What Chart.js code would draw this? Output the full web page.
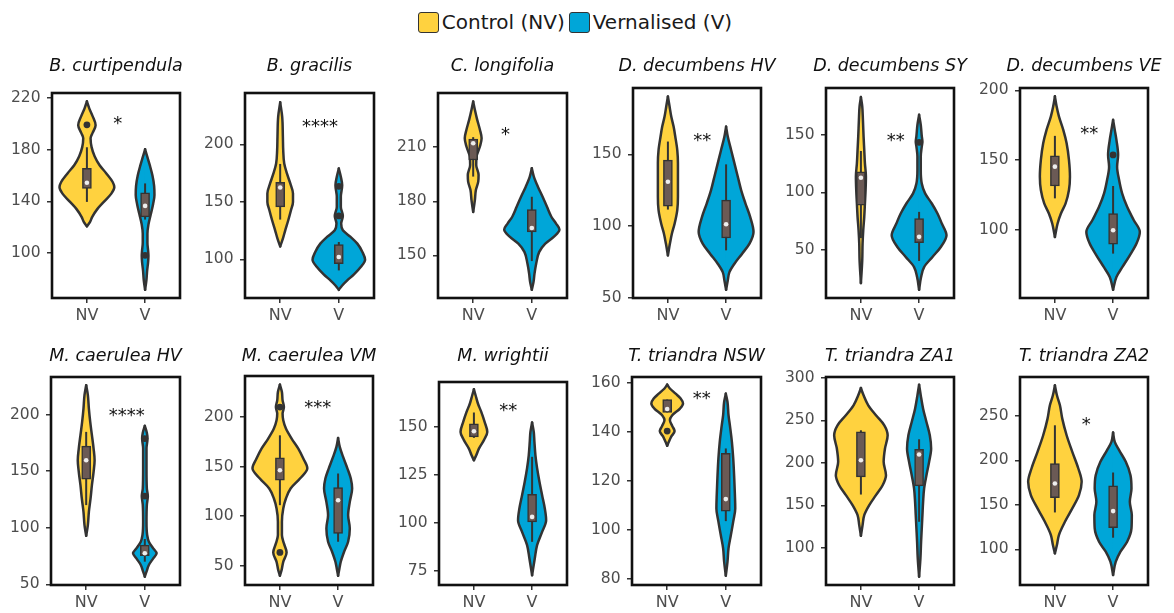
<!DOCTYPE html>
<html><head><meta charset="utf-8">
<script src="https://cdn.jsdelivr.net/npm/chart.js@4.4.1/dist/chart.umd.min.js"></script>
<style>
html,body{margin:0;padding:0;background:#fff;}
body{width:1174px;height:613px;overflow:hidden;position:relative;font-family:"DejaVu Sans",sans-serif;}
.panel{position:absolute;}
.panel canvas{display:block;}
#legend{position:absolute;left:-14px;top:9px;width:1174px;display:flex;justify-content:center;align-items:center;font-size:20px;color:#1a1a1a;line-height:26px;}
.key{width:19px;height:19px;border:1.6px solid #333;border-radius:3px;margin-right:3px;margin-left:4px;}
</style></head><body>
<div id="legend"><span class="key" style="background:#FFD23F"></span><span>Control (NV)</span><span class="key" style="background:#00A6D8"></span><span>Vernalised (V)</span></div>
<script>
// ---------------- DATA ----------------
const categories = ['NV', 'V'];
const titles = ['B. curtipendula','B. gracilis','C. longifolia','D. decumbens HV','D. decumbens SY','D. decumbens VE',
  'M. caerulea HV','M. caerulea VM','M. wrightii','T. triandra NSW','T. triandra ZA1','T. triandra ZA2'];
const yTicks = [[100,140,180,220],[100,150,200],[150,180,210],[50,100,150],[50,100,150],[100,150,200],
  [50,100,150,200],[50,100,150,200],[75,100,125,150],[80,100,120,140,160],[100,150,200,250,300],[100,150,200,250]];
const yRanges = [[65.2,223.9],[66.4,244.7],[126.3,240.1],[49.9,196.2],[7.8,190.9],[50.8,201.7],
  [49.4,233.2],[30.6,241.3],[67.6,173.4],[77.4,162.4],[56.1,301.2],[59.9,293.8]];
// violin profiles: [value, relative density width]
const nvProfiles = [
  [[120.7,0],[124,9],[128,16],[134,31],[140,52],[146,73],[151,82],[155,77],[162,57],[168,38],[175,23],[182,14],[188.9,11],[193,17],[199,26],[206,17],[212,7],[217.4,0]],
  [[111.3,0],[118,8],[125.3,15],[134,24],[142.7,32],[150,38],[157.3,38],[166,30],[174.7,20],[183.4,12],[195,9],[206.7,8],[224,6],[236.6,0]],
  [[174.1,0],[180.6,5],[186.2,8],[190.9,15],[194.6,16],[200.2,9],[204.8,10],[210.4,20],[215,25],[219.7,20],[225.2,12],[230.8,5],[235.4,0]],
  [[79.6,0],[87.8,6],[94.8,12],[101.6,20],[111.1,28],[120.4,30],[129.7,30],[143.7,30],[153,28],[162.4,22],[169.3,17],[176.3,10],[183.3,5],[190.3,0]],
  [[20.8,0],[40.7,4],[55.3,5],[66.9,7],[78.6,10],[90.2,12],[101.9,14],[113.6,15],[125.2,12],[136.9,10],[148.5,8],[163.1,6],[174.8,4],[183,0]],
  [[94.7,0],[104.3,8],[111.5,18],[118.8,32],[128.4,42],[138,45],[150,42],[162,35],[171.6,25],[181.3,12],[188.5,5],[195.7,0]],
  [[92.9,0],[102.4,5],[114.1,8],[125.9,13],[137.6,17],[149.4,22],[159.7,25],[170,22],[181.8,17],[193.5,12],[205.3,8],[217.1,5],[225.9,0]],
  [[40,0],[45.6,5],[54,10],[63.4,20],[72.5,12],[80.9,6],[94.3,6],[107.7,10],[117.8,18],[127.9,32],[137.9,60],[148.3,82],[158.1,70],[168.1,55],[178.2,35],[188.3,18],[196.6,10],[203.4,8],[210.1,12],[216.8,8],[225.2,6],[232.6,0]],
  [[132.6,0],[135.2,7],[138.7,15],[143.1,30],[147.4,40],[152.6,32],[157.8,22],[162.2,12],[166.5,5],[169.6,0]],
  [[134.3,0],[135.9,5],[138,12],[140.3,22],[142.4,15],[144.8,8],[146.8,15],[149.5,38],[151.6,47],[153.6,40],[155.6,25],[157.7,8],[159.3,0]],
  [[114.1,0],[126.7,5],[138.4,10],[150.2,25],[162,45],[173.7,65],[185.5,75],[201.2,68],[216.9,72],[232.5,80],[244.3,70],[256.1,45],[267.8,22],[279.6,8],[288.2,0]],
  [[95.5,0],[104.8,6],[116.1,12],[131,30],[146,52],[161,72],[175.9,80],[190.9,70],[209.6,52],[228.3,35],[247,22],[262,15],[273.2,6],[284.4,0]]
];
const vProfiles = [
  [[71.5,0],[79,4],[86,6],[93,9],[98,10],[102,9],[108,7],[115,7],[122,10],[130,17],[138,24],[145,28],[152,27],[160,22],[168,14],[175,6],[180.3,0]],
  [[73.5,0],[77.3,10],[81.7,25],[86.9,45],[93.3,65],[99.7,78],[106.4,70],[113.7,55],[119.5,35],[125.3,12],[131.1,7],[137.8,12],[145.6,6],[154.4,6],[164.5,10],[171.8,6],[179,0]],
  [[130.9,0],[135.1,5],[139.8,8],[145.4,13],[151.9,22],[156.5,40],[160.2,65],[164.3,82],[167.6,72],[171.4,58],[176.9,45],[182.5,32],[188.1,18],[193.7,6],[198.3,0]],
  [[55.6,0],[62.1,5],[67.9,10],[73.8,25],[80.8,48],[87.8,70],[95.9,82],[106.4,72],[115.7,58],[125.1,45],[134.4,35],[143.7,25],[153,15],[162.4,5],[169.3,0]],
  [[15,0],[26.1,6],[34.8,15],[43.6,40],[52.3,65],[62.5,82],[72.7,68],[81.5,55],[90.2,38],[99,18],[107.7,8],[119.4,5],[131,5],[139.8,8],[144,10],[149,8],[158.7,5],[167.5,0]],
  [[56.7,0],[65.9,10],[73.1,28],[81.5,50],[89.9,70],[98.3,80],[106.7,62],[116.3,42],[126,27],[135.6,18],[145.2,12],[153.6,15],[164.4,10],[171.6,5],[178.8,0]],
  [[56.8,0],[61.2,5],[67.1,12],[72.9,25],[77.4,35],[81.8,25],[87.6,12],[93.5,7],[105.3,5],[120,6],[128,9],[134.7,6],[152.4,5],[170,5],[178.8,8],[184,6],[190,0]],
  [[40,0],[47.3,4],[54,8],[64.1,18],[74.2,30],[87.6,35],[101,30],[114.4,35],[127.9,42],[137.9,38],[148,28],[159.7,15],[169.8,5],[178.9,0]],
  [[72.7,0],[81.4,8],[88.4,15],[95.3,30],[101.4,42],[107.5,38],[114.4,30],[121.4,22],[128.5,15],[135.2,10],[142.2,7],[147.4,5],[152.3,0]],
  [[81.2,0],[86.9,5],[92.4,8],[97.8,15],[103.3,22],[108.7,28],[114.1,27],[121,25],[129.1,22],[135.9,18],[142.7,12],[146.8,8],[152.2,5],[155.6,0]],
  [[65.9,0],[87.5,4],[107.1,6],[122.7,8],[138.4,10],[154.1,12],[169.8,15],[185.5,22],[201.2,30],[216.9,36],[232.5,32],[248.2,22],[263.9,12],[279.6,5],[292.2,0]],
  [[71.2,0],[86.1,8],[97.4,22],[108.5,42],[123.5,55],[138.5,56],[153.5,50],[168.4,55],[183.4,52],[198.4,38],[211.5,18],[220.8,5],[231.3,0]]
];
// box stats: [whisker low, Q1, median, Q3, whisker high]
const nvBoxes = [[139.6,150,154.4,165.6,181.9],[134.6,145.6,162.5,166.9,183],[193.7,202.9,212.2,214.5,215.6],[111.5,113.9,130.9,146,158.9],
  [60,88.8,112.7,117.9,136],[122.4,131.3,145.2,152.9,167.3],[120,142.9,159.7,172.1,184.7],[111.1,136.2,146.3,158.7,181.5],
  [144.3,144.8,147.7,151.6,157.5],[147.9,147.9,149.3,153.2,153.2],[162.7,183.5,203.1,236.5,238.4],[141.5,158,174.1,196.5,239.5]];
const vBoxes = [[125.9,128,136.5,146.6,153.9],[90.4,96.2,102,112.8,115.1],[146.8,163,165.2,175.4,182.5],[83.1,91.7,101.3,118.1,143],
  [40.1,56.1,61.1,77.1,82.9],[82.7,89.4,99.5,111.5,131.3],[70,75.3,77.4,84.7,90],[74.2,82.6,116.1,128.9,143],
  [90.1,100.5,103.1,114.8,134.4],[103.5,107.6,112.5,131.2,133.2],[130.6,172.9,209.8,216.1,227.8],[113.1,124.3,143,171.4,186.4]];
const nvOutliers = [[199.3],[],[],[],[],[],[],[63.4,210],[],[140.3],[],[]];
const vOutliers = [[98.2],[163.5,137.8],[],[],[143.5],[153.6],[178.8,128],[],[],[],[],[]];
const sigLabels = ['*','****','*','**','**','**','****','***','**','**','','*'];
const sigX = [1.53,1.68,1.55,1.59,1.6,1.59,1.69,1.65,1.59,1.59,1.5,1.54];
const sigY = [203,218.3,218.7,161.9,148,171.6,202.4,212.8,160.4,155,0,244];

// ---------------- STYLE / LAYOUT ----------------
const FONT = '"DejaVu Sans", sans-serif';
const YELLOW = '#FFD23F', BLUE = '#00A6D8', BOXC = '#6B5A55', INK = '#333333';
const DENS = 1 / 174; // density width -> category units
const plotBoxes = [[52,93,180,298],[245,93,374,298],[438,93,567,298],[633,88,761,298],[826,88,954,298],[1020,88,1148,298],
  [51,377,180,585],[245,376,373,585],[439,382,567,585],[632,377,761,585],[826,377,954,585],[1020,377,1148,585]];
const TS = 17.5, YTICK = 15.5, XTICK = 16;

const framePlugin = {
  id: 'frame',
  afterDatasetsDraw(chart) {
    const {ctx, chartArea: a} = chart;
    ctx.save(); ctx.strokeStyle = '#111'; ctx.lineWidth = 2.6;
    ctx.strokeRect(a.left, a.top, a.right - a.left, a.bottom - a.top);
    ctx.restore();
  }
};
const sigPlugin = {
  id: 'sig',
  afterDatasetsDraw(chart, args, opts) {
    if (!opts.text) return;
    const {ctx, scales} = chart;
    ctx.save();
    ctx.fillStyle = '#111'; ctx.font = '18px ' + FONT; ctx.textAlign = 'center'; ctx.textBaseline = 'middle';
    ctx.fillText(opts.text, scales.x.getPixelForValue(opts.x), scales.y.getPixelForValue(opts.y) + 4);
    ctx.restore();
  }
};

function half(profile, c, sign) {
  return profile.map(([v, w]) => ({x: c + sign * w * DENS, y: v}));
}

for (let i = 0; i < 12; i++) {
  const [l, t, r, b] = plotBoxes[i];
  const rowTop = i < 6 ? 50 : 335;
  const titleMid = i < 6 ? 66.5 : 356;
  const W = 50, H = 30;
  const cw = r - l + 2 * W, ch = b - rowTop + H;
  const div = document.createElement('div');
  div.className = 'panel';
  div.style.left = (l - W) + 'px'; div.style.top = rowTop + 'px';
  div.style.width = cw + 'px'; div.style.height = ch + 'px';
  const cv = document.createElement('canvas');
  cv.width = cw; cv.height = ch; cv.style.width = cw + 'px'; cv.style.height = ch + 'px';
  div.appendChild(cv); document.body.appendChild(div);

  const lh = TS * 1.2;
  const padTop = titleMid - rowTop - lh / 2;
  const padBottom = t - rowTop - padTop - lh;

  const groups = [
    {prof: nvProfiles[i], box: nvBoxes[i], out: nvOutliers[i], color: YELLOW, c: 1},
    {prof: vProfiles[i], box: vBoxes[i], out: vOutliers[i], color: BLUE, c: 2}
  ];
  const datasets = [];
  groups.forEach(g => {
    const common = {type: 'line', indexAxis: 'y', borderColor: INK, borderWidth: 2.5, backgroundColor: g.color,
      pointRadius: 0, cubicInterpolationMode: 'monotone', order: 6, borderJoinStyle: 'round', borderCapStyle: 'round'};
    datasets.push(Object.assign({}, common, {data: half(g.prof, g.c, 1), fill: {value: g.c - 0.005}}));
    datasets.push(Object.assign({}, common, {data: half(g.prof, g.c, -1), fill: {value: g.c + 0.005}}));
    datasets.push({type: 'line', data: [{x: g.c, y: g.box[0]}, {x: g.c, y: g.box[4]}], borderColor: INK, borderWidth: 2,
      pointRadius: 0, fill: false, order: 5});
  });
  datasets.push({type: 'bar', data: groups.map(g => ({x: g.c, y: [g.box[1], g.box[3]]})), backgroundColor: BOXC,
    borderColor: INK, borderWidth: 1.5, borderSkipped: false, barThickness: 9, grouped: false, order: 4});
  const outs = [];
  groups.forEach(g => g.out.forEach(v => outs.push({x: g.c, y: v})));
  datasets.push({type: 'line', showLine: false, data: outs, pointRadius: 3.4, pointBackgroundColor: INK,
    pointBorderWidth: 0, order: 3});
  datasets.push({type: 'line', showLine: false, data: groups.map(g => ({x: g.c, y: g.box[2]})), pointRadius: 2.3,
    pointBackgroundColor: '#EEEEEE', pointBorderWidth: 0, order: 2});

  new Chart(cv, {
    type: 'line',
    data: {datasets},
    options: {
      responsive: false, animation: false, events: [],
      layout: {padding: 0},
      plugins: {
        legend: {display: false}, tooltip: {enabled: false},
        filler: {drawTime: 'beforeDatasetsDraw'},
        title: {display: true, text: titles[i], fullSize: true, color: '#111',
          font: {family: FONT, size: TS, style: 'italic', weight: 'normal'}, padding: {top: padTop, bottom: padBottom}},
        sig: {text: sigLabels[i], x: sigX[i], y: sigY[i]}
      },
      scales: {
        x: {type: 'linear', min: 0.4, max: 2.6, offset: false,
          afterBuildTicks: s => { s.ticks = categories.map((_, k) => ({value: k + 1})); },
          afterFit: s => { s.height = H; },
          ticks: {callback: v => categories[Math.round(v) - 1], font: {family: FONT, size: XTICK}, color: '#4d4d4d', padding: 3, maxRotation: 0, autoSkip: false},
          grid: {offset: false, drawOnChartArea: false, tickLength: 5, tickColor: INK, lineWidth: 1.5}, border: {display: false}},
        y: {type: 'linear', min: yRanges[i][0], max: yRanges[i][1], beginAtZero: false,
          afterBuildTicks: s => { s.ticks = yTicks[i].map(v => ({value: v})); },
          afterFit: s => { s.width = W; },
          ticks: {font: {family: FONT, size: YTICK}, color: '#4d4d4d', padding: 6.5, autoSkip: false},
          grid: {drawOnChartArea: false, tickLength: 5, tickColor: INK, lineWidth: 1.5}, border: {display: false}},
        yPad: {type: 'linear', position: 'right', min: 0, max: 1,
          afterFit: s => { s.width = W; },
          ticks: {display: false}, grid: {display: false}, border: {display: false}}
      }
    },
    plugins: [framePlugin, sigPlugin]
  });
}
</script>
</body></html>
